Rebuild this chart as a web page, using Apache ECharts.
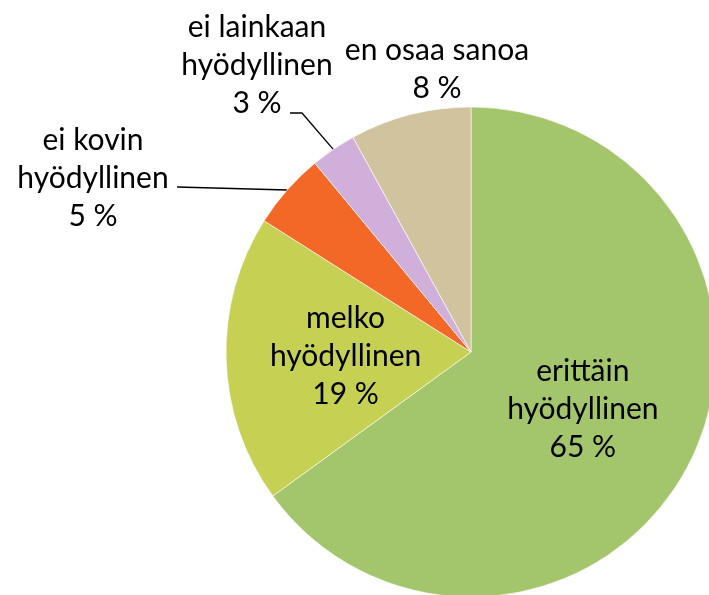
<!DOCTYPE html>
<html>
<head>
<meta charset="utf-8">
<script src="https://cdn.jsdelivr.net/npm/echarts@6/dist/echarts.min.js"></script>
<style>html,body{margin:0;padding:0;background:#fff}#c{width:709px;height:595px}</style>
</head>
<body>
<div id="c"></div>
<script>
var categories = ['erittäin\nhyödyllinen', 'melko\nhyödyllinen', 'ei kovin\nhyödyllinen', 'ei lainkaan\nhyödyllinen', 'en osaa sanoa'];
var values = [65, 19, 5, 3, 8];
var colors = ['#A3C56B', '#C6D052', '#F36826', '#D0AFDA', '#D0C39E'];

var FONT = 'Lato, "Open Sans", sans-serif';
var outerPos = {
  2: {x: 93, y: 178, line: [[177, 187]]},
  3: {x: 257, y: 65, line: [[302, 113], [290, 113]]},
  4: {x: 437, y: 69, line: null}
};

var chart = echarts.init(document.getElementById('c'), null, {renderer: 'canvas'});
chart.setOption({
  animation: false,
  series: [{
    type: 'pie',
    center: [471, 352],
    radius: 245,
    startAngle: 90,
    clockwise: true,
    percentPrecision: 0,
    itemStyle: {borderColor: '#ffffff', borderWidth: 0.6},
    label: {
      show: true,
      position: 'inside',
      formatter: function (p) { return p.name + '\n' + p.value + ' %'; },
      color: '#000',
      fontFamily: FONT,
      fontSize: 30,
      lineHeight: 38,
      align: 'center'
    },
    labelLine: {show: true, lineStyle: {color: '#000', width: 1.3}, smooth: false},
    labelLayout: function (p) {
      var o = outerPos[p.dataIndex];
      if (!o) return {};
      var res = {x: o.x, y: o.y, align: 'center', verticalAlign: 'middle'};
      if (o.line && p.labelLinePoints) {
        res.labelLinePoints = [p.labelLinePoints[0]].concat(o.line);
      }
      return res;
    },
    data: categories.map(function (c, i) {
      var d = {name: c, value: values[i], itemStyle: {color: colors[i]}};
      if (i >= 2) {
        d.label = {position: 'outside'};
        d.labelLine = {show: i !== 4, length: 20, length2: 10};
      }
      return d;
    })
  }]
});
</script>
</body>
</html>
